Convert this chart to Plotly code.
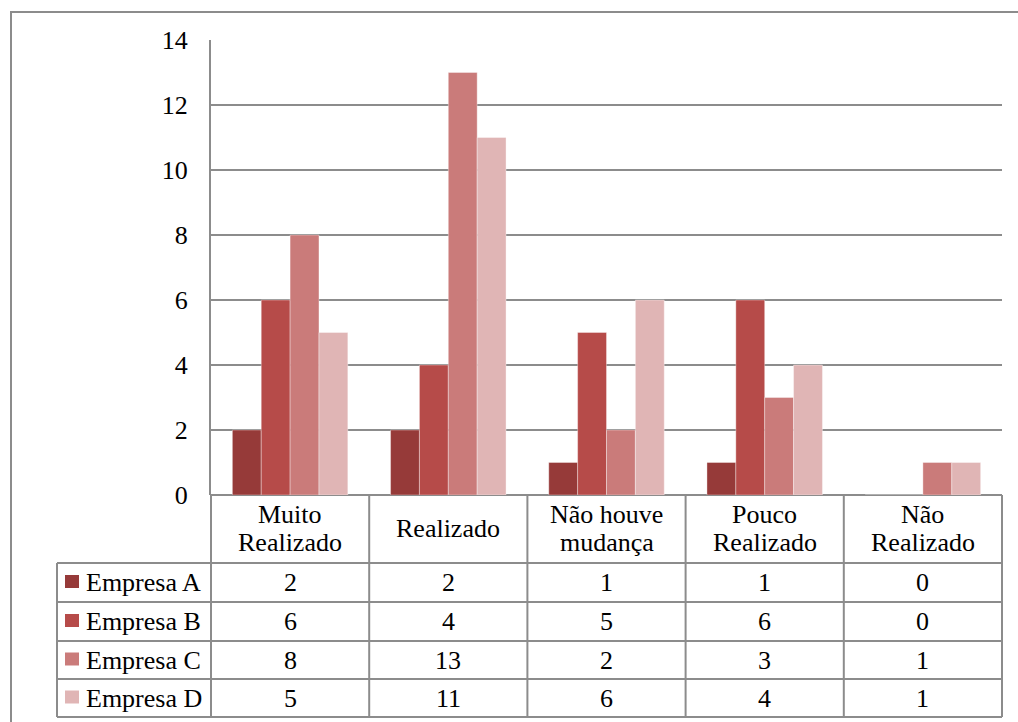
import plotly.graph_objects as go

# Categorias e valores por empresa
categorias = ["Muito<br>Realizado", "Realizado", "Não houve<br>mudança",
              "Pouco<br>Realizado", "Não<br>Realizado"]
empresas = ["Empresa A", "Empresa B", "Empresa C", "Empresa D"]
empresa_a = [2, 2, 1, 1, 0]
empresa_b = [6, 4, 5, 6, 0]
empresa_c = [8, 13, 2, 3, 1]
empresa_d = [5, 11, 6, 4, 1]
ticks_y = [0, 2, 4, 6, 8, 10, 12, 14]

series = [empresa_a, empresa_b, empresa_c, empresa_d]
cores = ["#963a39", "#b64b49", "#ca7b7a", "#e0b5b5"]

W, H = 1018, 722
FONT = "Liberation Serif, Times New Roman, serif"
FS = 26
LINE = "#8c8c8c"


def px(x):
    return x / W


def py(y):
    return 1 - y / H


# Plot area (pixels)
L, R, T, B = 211, 1002, 40, 495
# Data table geometry (pixels)
tab_left = 57
row_edges = [B, 563, 602, 641, 679, 717]
col_w = (R - L) / len(categorias)
col_edges = [L + i * col_w for i in range(len(categorias) + 1)]

fig = go.Figure()
for nome, vals, cor in zip(empresas, series, cores):
    fig.add_trace(go.Bar(
        x=list(range(len(categorias))), y=vals, name=nome,
        marker=dict(color=cor, line=dict(width=0.6, color="rgba(255,255,255,0.6)")),
        showlegend=False,
    ))

shapes = []
# outer frame
shapes.append(dict(type="rect", xref="paper", yref="paper",
                   x0=px(11), x1=px(W + 5), y0=py(12), y1=py(H + 5),
                   line=dict(color=LINE, width=2), fillcolor="rgba(0,0,0,0)"))
# table verticals
for xe in col_edges:
    shapes.append(dict(type="line", xref="paper", yref="paper",
                       x0=px(xe), x1=px(xe), y0=py(B), y1=py(row_edges[-1]),
                       line=dict(color=LINE, width=2)))
shapes.append(dict(type="line", xref="paper", yref="paper",
                   x0=px(tab_left), x1=px(tab_left), y0=py(row_edges[1]), y1=py(row_edges[-1]),
                   line=dict(color=LINE, width=2)))
# table horizontals
for ye in row_edges[1:]:
    shapes.append(dict(type="line", xref="paper", yref="paper",
                       x0=px(tab_left), x1=px(R), y0=py(ye), y1=py(ye),
                       line=dict(color=LINE, width=2)))

annotations = []
# header labels
hdr_c = (row_edges[0] + row_edges[1]) / 2
for i, cat in enumerate(categorias):
    cx = (col_edges[i] + col_edges[i + 1]) / 2
    partes = cat.split("<br>")
    n = len(partes)
    for j, p in enumerate(partes):
        cy = hdr_c + (j - (n - 1) / 2) * 28 - 1
        annotations.append(dict(x=px(cx), y=py(cy), xref="paper", yref="paper",
                                text=p, showarrow=False, xanchor="center", yanchor="middle",
                                font=dict(family=FONT, size=FS, color="black")))
# rows: legend key, name, values
for r, (nome, vals, cor) in enumerate(zip(empresas, series, cores)):
    cy = (row_edges[r + 1] + row_edges[r + 2]) / 2
    shapes.append(dict(type="rect", xref="paper", yref="paper",
                       x0=px(65), x1=px(79), y0=py(cy - 7.5), y1=py(cy + 5.5),
                       line=dict(width=0), fillcolor=cor))
    annotations.append(dict(x=px(84), y=py(cy), xref="paper", yref="paper",
                            text=nome, showarrow=False, xanchor="left", yanchor="middle",
                            font=dict(family=FONT, size=FS, color="black")))
    for i, v in enumerate(vals):
        cx = (col_edges[i] + col_edges[i + 1]) / 2
        annotations.append(dict(x=px(cx), y=py(cy), xref="paper", yref="paper",
                                text=str(v), showarrow=False, xanchor="center", yanchor="middle",
                                font=dict(family=FONT, size=FS, color="black")))

fig.update_layout(
    width=W, height=H,
    margin=dict(l=0, r=0, t=0, b=0, autoexpand=False),
    paper_bgcolor="white", plot_bgcolor="white",
    barmode="group", bargap=0.27, bargroupgap=0,
    shapes=shapes, annotations=annotations,
    font=dict(family=FONT, size=FS, color="black"),
    xaxis=dict(domain=[px(L), px(R)], range=[-0.5, len(categorias) - 0.5],
               showticklabels=False, showgrid=False, zeroline=False,
               showline=False, fixedrange=True, automargin=False),
    yaxis=dict(domain=[py(B), py(T)], range=[0, 14], tickvals=ticks_y,
               showgrid=True, gridcolor=LINE, gridwidth=2,
               zeroline=True, zerolinecolor=LINE, zerolinewidth=2,
               showline=True, linecolor=LINE, linewidth=2,
               ticks="", ticklen=0, ticklabelstandoff=16, automargin=False,
               tickfont=dict(family=FONT, size=FS, color="black")),
)

fig.write_html("out.html")
